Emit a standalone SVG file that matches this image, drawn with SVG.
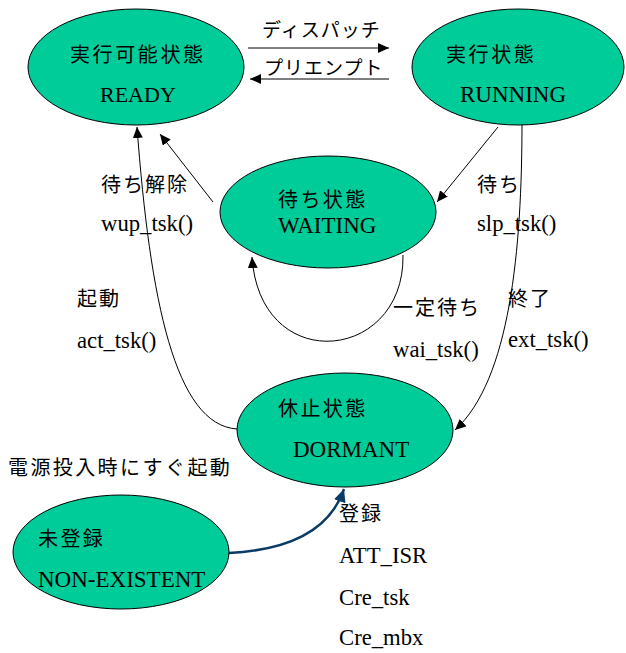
<svg xmlns="http://www.w3.org/2000/svg" width="626" height="653" viewBox="0 0 626 653">
<defs>
<marker id="ah" markerUnits="userSpaceOnUse" markerWidth="12" markerHeight="10" refX="11" refY="5" orient="auto">
<path d="M0,0 L11,5 L0,10 z" fill="#000"/>
</marker>
<marker id="ahb" markerUnits="userSpaceOnUse" markerWidth="14" markerHeight="12" refX="13" refY="6" orient="auto">
<path d="M0,0 L13,6 L0,12 z" fill="#0a3a66"/>
</marker>
<style>
.node{fill:#00cc99;stroke:#000;stroke-width:1}
.jp{font-family:"Noto Sans CJK JP","Noto Sans CJK SC",sans-serif;font-size:20px;fill:#000;letter-spacing:2px}
.en{font-family:"Liberation Serif",serif;font-size:23px;fill:#000}
.lbl{font-family:"Liberation Serif",serif;font-size:22.7px;fill:#000}
.c{fill:none;stroke:#000;stroke-width:1}
</style>
</defs>
<rect width="626" height="653" fill="#fff"/>
<g id="connectors">
<path class="c" d="M248,48 L389,48" marker-end="url(#ah)"/>
<path class="c" d="M389,79 L250,79" marker-end="url(#ah)"/>
<path class="c" d="M213,202 L160,134" marker-end="url(#ah)"/>
<path class="c" d="M237,429 C175,425 150,300 137,127" marker-end="url(#ah)"/>
<path class="c" d="M498,127 L437,202" marker-end="url(#ah)"/>
<path class="c" d="M522,122 C522,250 510,380 455,430" marker-end="url(#ah)"/>
<path class="c" d="M403,255 C405,362 260,377 252,257" marker-end="url(#ah)"/>
<path d="M229,553 C290,550 330,530 344,489" fill="none" stroke="#0a3a66" stroke-width="2.5" marker-end="url(#ahb)"/>
</g>
<g id="ready">
<ellipse class="node" cx="136" cy="67" rx="108" ry="58"/>
<text class="jp" x="70" y="62" style="letter-spacing:2.6px">実行可能状態</text>
<text class="en" x="100" y="102" style="font-size:22px">READY</text>
</g>
<g id="running">
<ellipse class="node" cx="518" cy="67" rx="106" ry="58"/>
<text class="jp" x="446" y="62" style="letter-spacing:2.6px">実行状態</text>
<text class="en" x="460" y="102">RUNNING</text>
</g>
<g id="waiting">
<ellipse class="node" cx="328" cy="212" rx="108" ry="56"/>
<text class="jp" x="278" y="207" style="letter-spacing:2.4px">待ち状態</text>
<text class="en" x="278" y="233">WAITING</text>
</g>
<g id="dormant">
<ellipse class="node" cx="345" cy="430" rx="108" ry="57"/>
<text class="jp" x="278" y="416" style="letter-spacing:2.4px">休止状態</text>
<text class="en" x="293" y="457">DORMANT</text>
</g>
<g id="nonexistent">
<ellipse class="node" cx="121" cy="552" rx="108" ry="57"/>
<text class="jp" x="38" y="546" style="letter-spacing:2.4px">未登録</text>
<text class="en" x="38" y="587">NON-EXISTENT</text>
</g>
<g id="labels">
<text class="jp" x="262" y="37" style="font-size:19px;letter-spacing:1px">ディスパッチ</text>
<text class="jp" x="264" y="75" style="font-size:19px;letter-spacing:1px">プリエンプト</text>
<text class="jp" x="101" y="192">待ち解除</text>
<text class="lbl" x="101" y="231">wup_tsk()</text>
<text class="jp" x="477" y="192">待ち</text>
<text class="lbl" x="477" y="231">slp_tsk()</text>
<text class="jp" x="393" y="315">一定待ち</text>
<text class="lbl" x="393" y="357">wai_tsk()</text>
<text class="jp" x="508" y="306">終了</text>
<text class="lbl" x="508" y="347">ext_tsk()</text>
<text class="jp" x="77" y="306">起動</text>
<text class="lbl" x="77" y="348">act_tsk()</text>
<text class="jp" x="8" y="475" style="letter-spacing:2.4px">電源投入時にすぐ起動</text>
<text class="jp" x="339" y="521">登録</text>
<text class="lbl" x="339" y="563">ATT_ISR</text>
<text class="lbl" x="339" y="605">Cre_tsk</text>
<text class="lbl" x="339" y="645">Cre_mbx</text>
</g>
</svg>
